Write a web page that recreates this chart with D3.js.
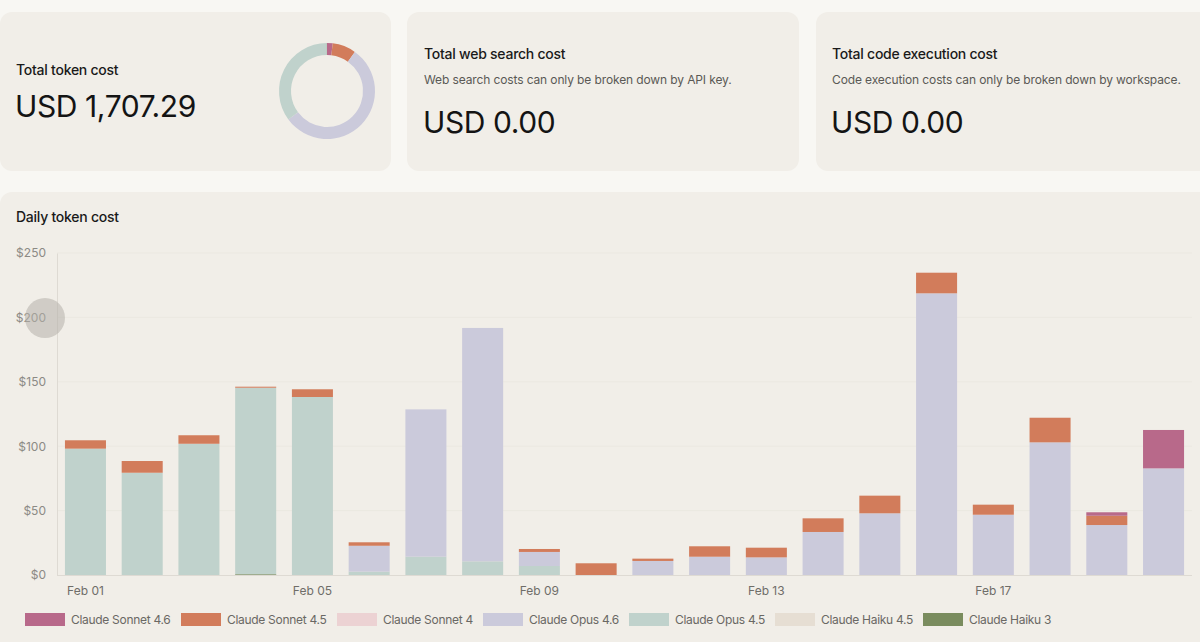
<!DOCTYPE html>
<html>
<head>
<meta charset="utf-8">
<script src="https://cdn.jsdelivr.net/npm/d3@7"></script>
<style>
  html, body { margin: 0; padding: 0; background: #f8f7f3; }
  svg { display: block; font-family: Inter, "Noto Sans", sans-serif; }
</style>
</head>
<body>
<svg id="chart" width="1200" height="642"></svg>
<script>
// ---- data ----
const days = ["Feb 01","Feb 02","Feb 03","Feb 04","Feb 05","Feb 06","Feb 07","Feb 08","Feb 09","Feb 10",
              "Feb 11","Feb 12","Feb 13","Feb 14","Feb 15","Feb 16","Feb 17","Feb 18","Feb 19","Feb 20"];
const tickLabels = ["Feb 01","Feb 05","Feb 09","Feb 13","Feb 17"];
const yTicks = [0, 50, 100, 150, 200, 250];
const models = ["Claude Sonnet 4.6","Claude Sonnet 4.5","Claude Sonnet 4","Claude Opus 4.6","Claude Opus 4.5","Claude Haiku 4.5","Claude Haiku 3"];
const colors = ["#b8698a","#d27c5b","#ecd2d3","#cbcadb","#c0d2cc","#e6ded3","#7a8c5e"];
const sonnet46 = [0,0,0,0,0,0,0,0,0,0,0,0,0,0,0,0,0,0,2.7,29.8];
const sonnet45 = [6.5,9.1,6.6,0.8,6.0,2.7,0,0,2.3,9.1,1.8,8.1,7.5,10.6,13.7,16.0,7.8,19.1,7.2,0];
const sonnet4  = [0,0,0,0,0,0,0,0,0,0,0,0,0,0,0,0,0,0,0,0];
const opus46   = [0,0,0,0,0,20.1,114.4,181.2,10.9,0,10.9,14.2,13.7,33.4,47.9,218.7,46.8,103.0,38.8,82.8];
const opus45   = [98.1,79.4,101.9,144.8,138.2,2.6,14.2,10.6,7.0,0,0,0,0,0,0,0,0,0,0,0];
const haiku45  = [0,0,0,0,0,0,0,0,0,0,0,0,0,0,0,0,0,0,0,0];
const haiku3   = [0,0,0,0.6,0,0,0,0,0,0,0,0,0,0,0,0,0,0,0,0];
const seriesVals = [sonnet46, sonnet45, sonnet4, opus46, opus45, haiku45, haiku3];
const totalText = "USD 1,707.29";

// ---- build ----
const svg = d3.select("#chart");
const cardFill = "#f1eee8";

// cards
const cards = [
  {x:0, y:12, w:391, h:159},
  {x:407, y:12, w:392, h:159},
  {x:816, y:12, w:400, h:159},
  {x:0, y:192, w:1216, h:470}
];
svg.selectAll("rect.card").data(cards).join("rect")
  .attr("class","card")
  .attr("x", d=>d.x).attr("y", d=>d.y).attr("width", d=>d.w).attr("height", d=>d.h)
  .attr("rx", 12).attr("fill", cardFill);

function title(xp, yp, txt) {
  return svg.append("text").attr("x",xp).attr("y",yp).attr("font-size",14).attr("font-weight",500)
    .attr("letter-spacing","-0.25").attr("fill","#1a1a1a").text(txt);
}
function bigValue(xp, yp, txt) {
  return svg.append("text").attr("x",xp).attr("y",yp).attr("font-size",30).attr("fill","#141414")
    .attr("letter-spacing","-0.4").text(txt);
}
function subtitle(xp, yp, txt) {
  return svg.append("text").attr("x",xp).attr("y",yp).attr("font-size",12).attr("fill","#5a5955")
    .attr("letter-spacing","-0.12").text(txt);
}

// card texts
title(16, 75, "Total token cost");
bigValue(15, 117, totalText);

title(424, 59, "Total web search cost");
subtitle(424, 84, "Web search costs can only be broken down by API key.");
bigValue(423, 133, "USD 0.00");

title(832, 59, "Total code execution cost");
subtitle(832, 84, "Code execution costs can only be broken down by workspace.");
bigValue(831, 133, "USD 0.00");

title(16, 222, "Daily token cost");

// donut
const totals = models.map((m,i)=>({model:m, color:colors[i], value:d3.sum(seriesVals[i])}));
const pie = d3.pie().sort(null).value(d=>d.value);
const arc = d3.arc().innerRadius(36).outerRadius(48);
svg.append("g").attr("transform","translate(327,91)")
  .selectAll("path").data(pie(totals)).join("path")
  .attr("d", arc).attr("fill", d=>d.data.color);

// chart
const x = d3.scaleBand().domain(days).range([57, 1192]).paddingInner(0.277).paddingOuter(0.14);
const y = d3.scaleLinear().domain([0, 250]).range([575, 253]);

// gridlines
svg.append("g").selectAll("line").data(yTicks.filter(t=>t>0)).join("line")
  .attr("x1",57).attr("x2",1192).attr("y1",d=>y(d)).attr("y2",d=>y(d))
  .attr("stroke","#ebe8e1").attr("stroke-width",1);

// y axis
const yAxis = svg.append("g").attr("transform","translate(57,0)")
  .call(d3.axisLeft(y).tickValues(yTicks).tickFormat(d=>"$"+d).tickSize(0).tickPadding(11));
yAxis.select(".domain").attr("stroke","#dedad3");
yAxis.selectAll("text").attr("font-size",12).attr("fill","#8c8a85").attr("font-family","Inter, 'Noto Sans', sans-serif");

// stacked bars
const table = days.map((d,j)=>{
  const row = {day:d};
  models.forEach((m,i)=>row[m]=seriesVals[i][j]);
  return row;
});
const stackOrder = models.slice().reverse();
const stacked = d3.stack().keys(stackOrder)(table);
svg.append("g").selectAll("g").data(stacked).join("g")
  .attr("fill", s=>colors[models.indexOf(s.key)])
  .selectAll("rect").data(s=>s.filter(p=>p[1]-p[0]>0)).join("rect")
  .attr("x", p=>x(p.data.day))
  .attr("width", x.bandwidth())
  .attr("y", p=>y(p[1]))
  .attr("height", p=>y(p[0])-y(p[1]));

// x axis
const xAxis = svg.append("g").attr("transform","translate(0,575)")
  .call(d3.axisBottom(x).tickValues(tickLabels).tickSize(0).tickPadding(11));
xAxis.select(".domain").attr("stroke","#dedad3").attr("d","M57,0.5H1192");
xAxis.selectAll("text").attr("font-size",12).attr("fill","#6f6d68").attr("font-family","Inter, 'Noto Sans', sans-serif");

// legend
const legendX = [25,181,337,483,629,775,923];
const lg = svg.append("g").selectAll("g").data(models).join("g")
  .attr("transform",(d,i)=>`translate(${legendX[i]},613)`);
lg.append("rect").attr("width",40).attr("height",13).attr("fill",(d,i)=>colors[i]);
lg.append("text").attr("x",46).attr("y",11).attr("font-size",12).attr("letter-spacing","-0.3")
  .attr("fill","#6a6864").text(d=>d);

// touch indicator
svg.append("circle").attr("cx",45).attr("cy",318).attr("r",20).attr("fill","#b5b1a9").attr("opacity",0.55);
</script>
</body>
</html>
